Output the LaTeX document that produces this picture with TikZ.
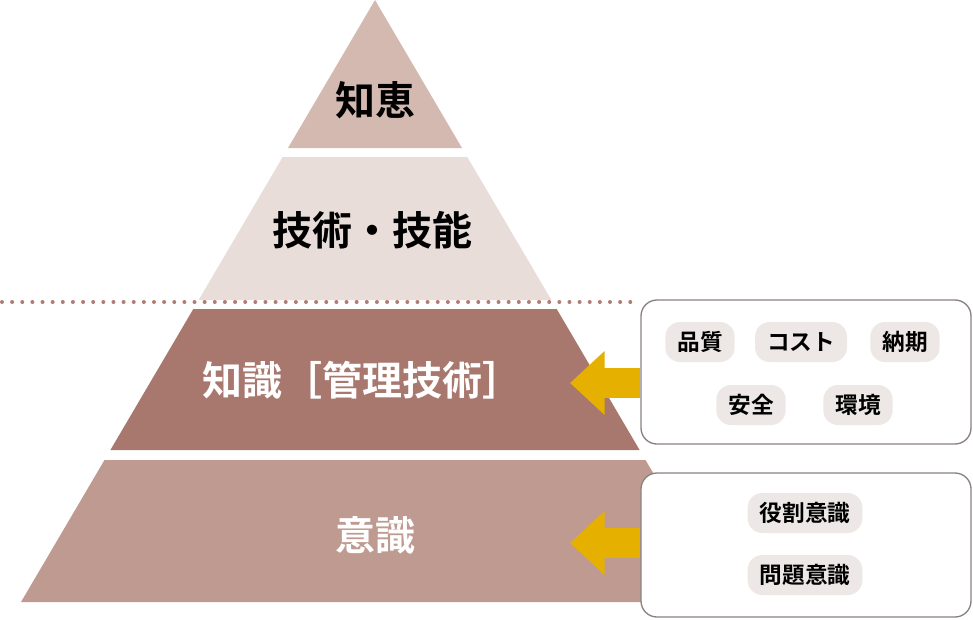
\documentclass[tikz,border=0pt]{standalone}
\usepackage{fontspec}
\setmainfont{Noto Sans CJK JP}
\newfontfamily\jpbold{Noto Sans CJK JP Bold}
\usetikzlibrary{arrows.meta,positioning}
\definecolor{wisdomc}{HTML}{D4B9B0}
\definecolor{skillc}{HTML}{E9DDD9}
\definecolor{knowc}{HTML}{A8776D}
\definecolor{mindc}{HTML}{BF9A90}
\definecolor{dotc}{HTML}{B07D74}
\definecolor{pillc}{HTML}{EDE8E5}
\definecolor{arrowc}{HTML}{E6B000}
\definecolor{framec}{HTML}{8A8280}
\begin{document}
\begin{tikzpicture}[x=0.75pt,y=-0.75pt,
    layer/.style={text=black,font=\jpbold\fontsize{30pt}{30pt}\selectfont},
    infobox/.style={draw=framec,line width=1pt,rounded corners=12pt,fill=white},
    pill/.style={fill=pillc,rounded corners=11pt,minimum height=30pt,inner xsep=9pt,font=\jpbold\fontsize{17pt}{17pt}\selectfont},
    bigarrow/.style={arrowc,line width=22.5pt,-{Triangle[length=26pt,width=46.5pt]}}]
    \useasboundingbox (0,0) rectangle (973,619);
    
    % pyramid layers
    \fill[wisdomc] (375,0) -- (462,148) -- (288,148) -- cycle;
    \fill[skillc] (282.7,157) -- (467.3,157) -- (551.4,300) -- (198.6,300) -- cycle;
    \fill[knowc] (193.3,309) -- (556.7,309) -- (639.6,450) -- (110.4,450) -- cycle;
    \fill[mindc] (104.5,460) -- (645.5,460) -- (729,602) -- (21,602) -- cycle;
    \draw[dotc,line width=3pt,line cap=round,dash pattern=on 0pt off 7.6pt] (2,302) -- (635,302);
    
    \node[layer] (wisdom) at (375,100) {知恵};
    \node[layer] (skill) at (372,230) {技術・技能};
    \node[layer,text=white] (know) at (362,380) {知識［管理技術］};
    \node[layer,text=white] (mind) at (375,535) {意識};
    
    % boxes on the right
    \node[infobox,minimum width=247.5pt,minimum height=108pt] (mgmt) at (806,372) {};
    \node[infobox,minimum width=247.5pt,minimum height=108pt] (role) at (806,545) {};
    
    \node[pill] (quality) at (700,342) {品質};
    \node[pill] (cost) at (801,342) {コスト};
    \node[pill] (delivery) at (905,342) {納期};
    \node[pill] (safety) at (751,405) {安全};
    \node[pill] (environ) at (858,405) {環境};
    \node[pill] (roleaware) at (805,513) {役割意識};
    \node[pill] (issueaware) at (805,575) {問題意識};
    
    \coordinate (tip1) at (570,383);
    \coordinate (tip2) at (570,543);
    \draw[bigarrow] (mgmt.west |- tip1) -- (tip1);
    \draw[bigarrow] (role.west |- tip2) -- (tip2);
    
    \end{tikzpicture}
\end{document}
